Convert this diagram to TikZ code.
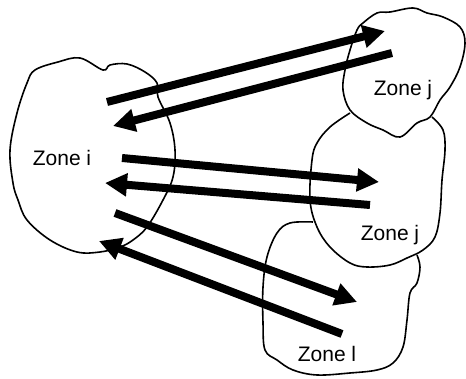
\documentclass[tikz,border=0pt]{standalone}
\usepackage{fontspec}
\setmainfont{Liberation Sans}
\usetikzlibrary{arrows.meta}
\begin{document}
\begin{tikzpicture}[x=1pt,y=-1pt,
  blob/.style={draw=black,line width=1.6pt,line join=round},
  flow/.style={draw=black,line width=8pt,-{Triangle[length=22pt,width=22pt]}},
  zlabel/.style={font=\fontsize{21}{23}\selectfont,inner sep=0pt}]
\useasboundingbox (0,0) rectangle (466,379);
% Zone i
\draw[blob] plot[smooth cycle,tension=0.6] coordinates {
 (35,70) (58,62) (80,58) (103,70) (110,65) (127,64) (145,72) (157,83) (158,97)
 (170,123) (175,150) (173,177) (163,200) (147,227) (133,240) (120,247) (100,252)
 (77,252) (50,240) (27,220) (18,200) (13,183) (10,150) (17,113) (27,83)};
% Zone j (top)
\draw[blob] plot[smooth cycle,tension=0.6] coordinates {
 (363,23) (377,13) (390,12) (413,8) (427,13) (443,17) (460,27) (465,43) (460,67)
 (450,87) (440,100) (430,117) (417,123) (400,137) (383,130) (367,123) (350,110)
 (343,90) (345,70) (350,50) (357,30)};
% Zone j (middle)
\draw[blob] plot[smooth,tension=0.6] coordinates {
 (350,113) (330,127) (317,143) (312,160) (310,200) (317,227) (330,247) (350,263)
 (367,267) (390,265) (407,258) (423,250) (435,237) (440,213) (442,180) (445,150)
 (443,130) (432,117)};
% Zone l
\draw[blob] plot[smooth,tension=0.6] coordinates {
 (313,222) (290,223) (277,233) (267,257) (263,287) (263,323) (265,350) (277,360)
 (293,370) (317,375) (350,373) (377,370) (393,363) (403,347) (407,320) (410,293)
 (417,283) (420,267) (417,255)};
% labels
\node[zlabel] (zi) at (62,158) {Zone i};
\node[zlabel] (zj1) at (403,90) {Zone j};
\node[zlabel] (zj2) at (390,235) {Zone j};
\node[zlabel] (zl) at (327,354) {Zone l};
% arrow end points
\coordinate (a1s) at (107,102); \coordinate (a1e) at (385,31);
\coordinate (a2s) at (392,53);  \coordinate (a2e) at (113,126);
\coordinate (a3s) at (122,158); \coordinate (a3e) at (379,182);
\coordinate (a4s) at (370,205); \coordinate (a4e) at (105,183);
\coordinate (a5s) at (115,213); \coordinate (a5e) at (357,302);
\coordinate (a6s) at (342,334); \coordinate (a6e) at (99,241);
\draw[flow] (a1s) -- (a1e);
\draw[flow] (a2s) -- (a2e);
\draw[flow] (a3s) -- (a3e);
\draw[flow] (a4s) -- (a4e);
\draw[flow] (a5s) -- (a5e);
\draw[flow] (a6s) -- (a6e);
\end{tikzpicture}
\end{document}
